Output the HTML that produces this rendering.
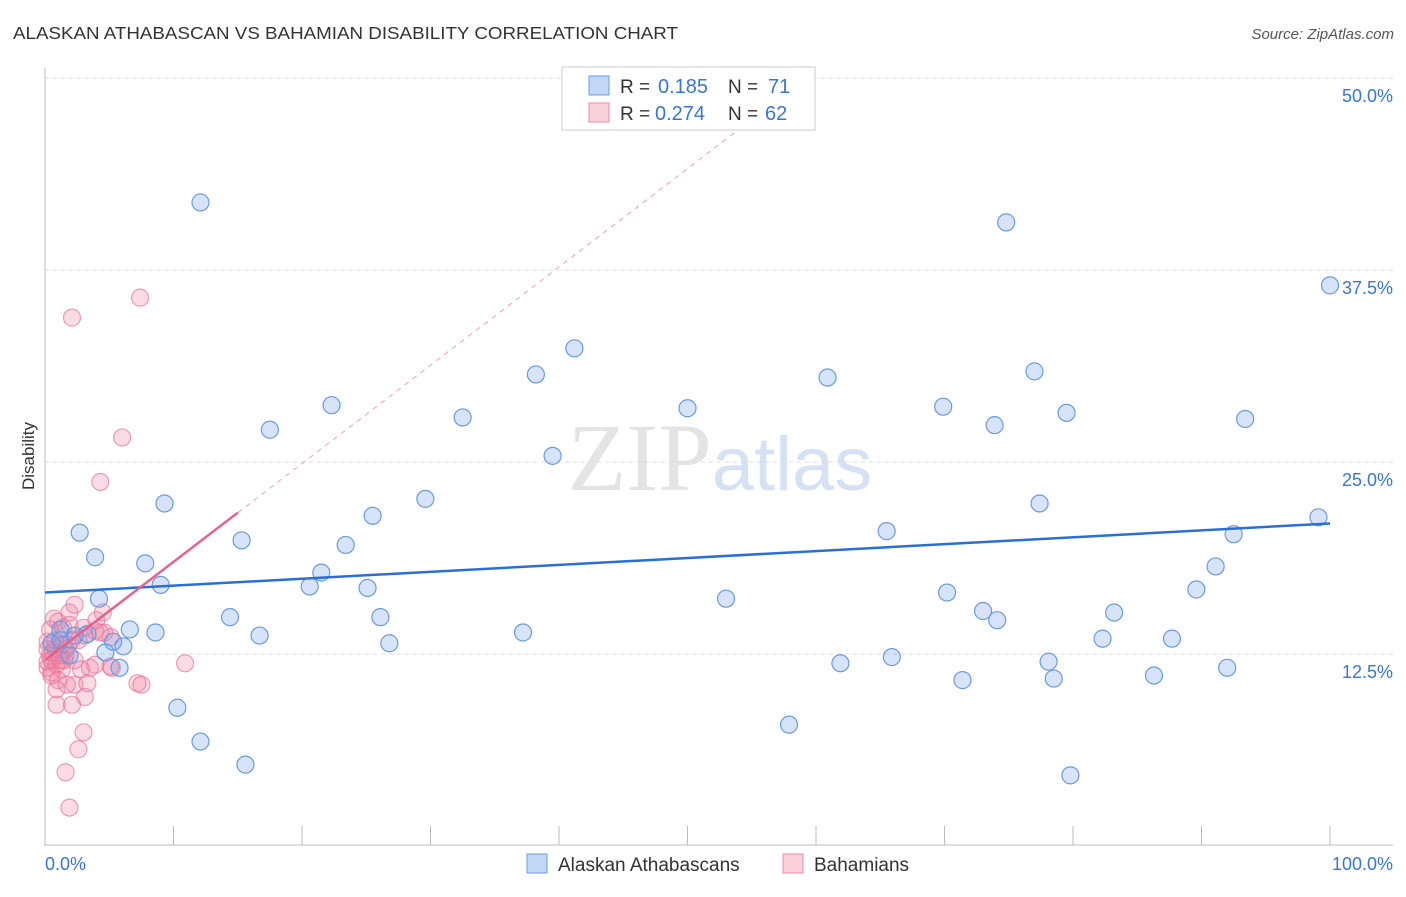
<!DOCTYPE html>
<html><head><meta charset="utf-8"><style>
body{margin:0;background:#fff;font-family:"Liberation Sans",sans-serif;}
svg text{font-family:"Liberation Sans",sans-serif;}
</style></head><body>
<svg id="chart" width="1406" height="892" xmlns="http://www.w3.org/2000/svg">
<text x="13" y="39" font-size="17.5" fill="#333" textLength="665" lengthAdjust="spacingAndGlyphs">ALASKAN ATHABASCAN VS BAHAMIAN DISABILITY CORRELATION CHART</text>
<text x="1394" y="39" font-size="15" fill="#555" font-style="italic" text-anchor="end">Source: ZipAtlas.com</text>
<text x="720" y="490" font-size="96" text-anchor="middle"><tspan fill="#e4e4e4" font-family="Liberation Serif">ZIP</tspan><tspan fill="#d6e2f4" font-size="76">atlas</tspan></text>
<g id="grid"></g>
<g id="axes"></g>
<g id="pts"></g>
<g id="trends"></g>
<text transform="translate(34,456) rotate(-90)" font-size="17" fill="#333" text-anchor="middle">Disability</text>
<g>
<rect x="562" y="67" width="253" height="63" fill="#fff" stroke="#ccc"/>
<rect x="589" y="76" width="20" height="19" fill="rgba(120,165,235,0.45)" stroke="#6a9be0"/>
<rect x="589" y="103" width="20" height="19" fill="rgba(245,150,180,0.45)" stroke="#ea8aa8"/>
<text x="620" y="93" font-size="19" fill="#333">R =</text>
<text x="658" y="93" font-size="20" fill="#3a74d6">0.185</text>
<text x="728" y="93" font-size="19" fill="#333">N =</text>
<text x="768" y="93" font-size="20" fill="#3a74d6">71</text>
<text x="620" y="120" font-size="19" fill="#333">R =</text>
<text x="655" y="120" font-size="20" fill="#3a74d6">0.274</text>
<text x="728" y="120" font-size="19" fill="#333">N =</text>
<text x="765" y="120" font-size="20" fill="#3a74d6">62</text>
</g>
<g>
<rect x="527" y="854" width="20" height="19" fill="rgba(120,165,235,0.45)" stroke="#6a9be0"/>
<text x="558" y="871" font-size="19" fill="#333">Alaskan Athabascans</text>
<rect x="783" y="854" width="20" height="19" fill="rgba(245,150,180,0.45)" stroke="#ea8aa8"/>
<text x="814" y="871" font-size="19" fill="#333">Bahamians</text>
</g>
</svg>
<script>
const yTicks=[12.5,25,37.5,50];
const yTickLabels=["12.5%","25.0%","37.5%","50.0%"];
const xTickLabels=["0.0%","100.0%"];
const blueX=[12.1,74.8,100,41.2,38.2,60.9,77.0,22.3,69.9,50.0,32.5,79.5,93.4,17.5,73.9,39.5,29.6,9.3,77.4,25.5,2.7,65.5,99.1,92.5,15.3,3.9,23.4,7.8,91.1,21.5,20.6,9.0,25.1,89.6,70.2,4.2,53.0,83.2,73.0,14.4,26.1,74.1,6.6,8.6,37.2,16.7,3.3,1.2,0.5,5.3,6.1,26.8,82.3,87.7,4.7,65.9,61.9,78.1,5.8,92.0,71.4,78.5,86.3,10.3,57.9,12.1,15.6,79.8,1.2,1.9,2.3];
const blueY=[41.9,40.6,36.5,32.4,30.7,30.5,30.9,28.7,28.6,28.5,27.9,28.2,27.8,27.1,27.4,25.4,22.6,22.3,22.3,21.5,20.4,20.5,21.4,20.3,19.9,18.8,19.6,18.4,18.2,17.8,16.9,17.0,16.8,16.7,16.5,16.1,16.1,15.2,15.3,14.9,14.9,14.7,14.1,13.9,13.9,13.7,13.8,14.1,13.2,13.3,13.0,13.2,13.5,13.5,12.6,12.3,11.9,12.0,11.6,11.6,10.8,10.9,11.1,9.0,7.9,6.8,5.3,4.6,13.4,12.4,13.7];
const pinkX=[7.4,2.1,6.0,4.3,0.7,1.4,1.9,2.3,1.0,4.5,4.0,3.0,3.9,5.1,4.6,2.1,1.8,0.2,0.4,0.5,0.8,1.2,1.5,1.6,0.2,0.5,0.9,1.3,1.0,2.3,2.8,3.5,5.2,3.9,1.7,2.3,3.3,0.9,3.1,5.1,7.2,7.5,10.9,3.0,2.6,1.6,1.9,0.9,2.1,0.2,0.4,0.8,2.6,3.1,1.3,1.9,4.3,0.5,0.2,1.2,1.6,0.6];
const pinkY=[35.7,34.4,26.6,23.7,14.8,14.2,15.2,15.7,14.6,15.2,14.7,14.2,14.0,13.6,13.9,13.4,13.1,12.8,12.4,12.1,12.9,12.4,12.1,12.8,11.6,11.3,11.8,11.5,10.8,12.1,11.5,11.6,11.6,11.8,10.5,10.5,10.6,10.2,9.7,11.7,10.6,10.5,11.9,7.4,6.3,4.8,2.5,9.2,9.2,13.3,14.1,13.4,13.4,13.7,13.1,14.4,13.9,11.1,12.0,12.1,12.4,12.6];
const blueTrend=[16.5,21.0];
const pinkTrend=[12.1,0.64];
const NS='http://www.w3.org/2000/svg';
const X0=45,X1=1330,YB=846,YS=15.36;
function sx(v){return X0+(X1-X0)*v/100;}
function sy(v){return YB-v*YS;}
function mk(tag,parent,attrs){const e=document.createElementNS(NS,tag);for(const k in attrs)e.setAttribute(k,attrs[k]);document.getElementById(parent).appendChild(e);return e;}
yTicks.forEach((t,i)=>{
 const g=mk('line','grid',{x1:45,x2:1393,y1:sy(t),y2:sy(t),stroke:'#ddd','stroke-dasharray':'4,4'});
 
 
 const tx=mk('text','axes',{x:1393,y:sy(t)+24,'font-size':18,fill:'#3a74d6','text-anchor':'end'});
 tx.textContent=yTickLabels[i];
 
 
});
let a=mk('line','axes',{x1:45,x2:45,y1:68,y2:846,stroke:'#bbb'});


a=mk('line','axes',{x1:45,x2:1393,y1:845,y2:845,stroke:'#bbb'});


for(let i=0;i<=10;i++){
 const t=mk('line','axes',{x1:sx(i*10),x2:sx(i*10),y1:826,y2:845,stroke:'#bbb'});
 
 
}
let xl=mk('text','axes',{x:45,y:870,'font-size':18,fill:'#3a74d6'});
xl.textContent=xTickLabels[0];


xl=mk('text','axes',{x:1393,y:870,'font-size':18,fill:'#3a74d6','text-anchor':'end'});
xl.textContent=xTickLabels[1];


pinkX.forEach((x,i)=>{
 const c=mk('circle','pts',{cx:sx(x),cy:sy(pinkY[i]),r:8.5,fill:'rgba(240,130,160,0.28)',stroke:'rgba(230,120,155,0.7)','stroke-width':1.2});
 
 
});
blueX.forEach((x,i)=>{
 const c=mk('circle','pts',{cx:sx(x),cy:sy(blueY[i]),r:8.5,fill:'rgba(110,155,230,0.28)',stroke:'#6a9be0','stroke-width':1.2});
 
 
});
let l=mk('line','trends',{x1:sx(0),y1:sy(blueTrend[0]),x2:sx(100),y2:sy(blueTrend[1]),stroke:'#2a6fd6','stroke-width':2.5});


const pxEnd=(47-pinkTrend[0])/pinkTrend[1];
l=mk('line','trends',{x1:sx(15),y1:sy(pinkTrend[0]+pinkTrend[1]*15),x2:sx(pxEnd),y2:sy(47),stroke:'#f0a0b8','stroke-width':1,'stroke-dasharray':'5,5'});


l=mk('line','trends',{x1:sx(0),y1:sy(pinkTrend[0]),x2:sx(15),y2:sy(pinkTrend[0]+pinkTrend[1]*15),stroke:'#e8608c','stroke-width':2.5});


</script>
</body></html>
